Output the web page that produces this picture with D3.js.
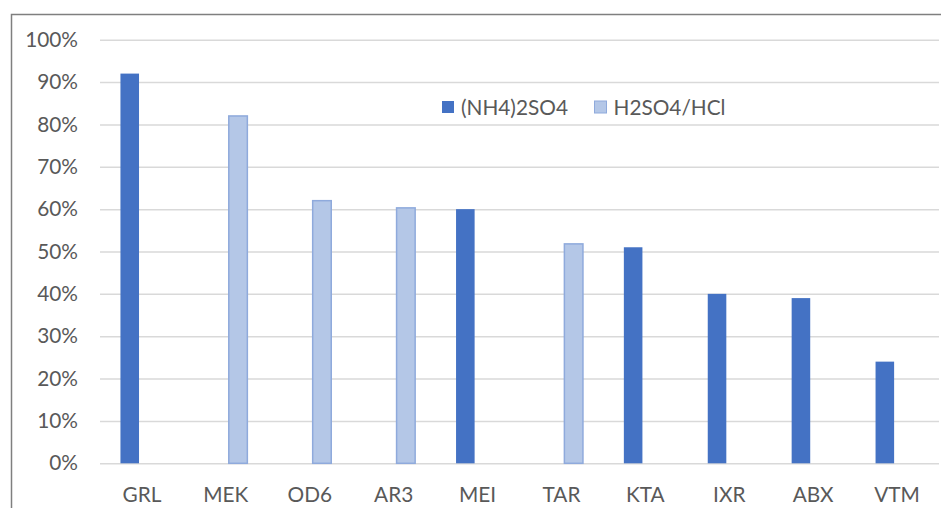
<!DOCTYPE html>
<html>
<head>
<meta charset="utf-8">
<script src="https://cdn.jsdelivr.net/npm/d3@7"></script>
<style>
  html, body { margin: 0; padding: 0; background: #fff; }
  svg { display: block; }
</style>
</head>
<body>
<svg id="chart" width="941" height="508"></svg>
<script>
const categories = ["GRL", "MEK", "OD6", "AR3", "MEI", "TAR", "KTA", "IXR", "ABX", "VTM"];
const seriesNames = ["(NH4)2SO4", "H2SO4/HCl"];
const nh4so4 = [0.92, null, null, null, 0.60, null, 0.51, 0.40, 0.39, 0.24];
const h2so4hcl = [null, 0.82, 0.62, 0.603, null, 0.518, null, null, null, null];
const yTicks = [0, 0.1, 0.2, 0.3, 0.4, 0.5, 0.6, 0.7, 0.8, 0.9, 1.0];

const W = 941, H = 508;
const plot = { left: 100, right: 939, top: 39.7, bottom: 463.3 };
const font = "Lato, 'Open Sans', sans-serif";
const fontSize = "20.8px";
const textColor = "#595959";

const svg = d3.select("#chart");

// chart border (top and left visible)
svg.append("rect")
  .attr("x", 11.5).attr("y", 14.5)
  .attr("width", 1000).attr("height", 1000)
  .attr("fill", "#fff")
  .attr("stroke", "#7f7f7f")
  .attr("stroke-width", 1.5);

const x = d3.scaleBand().domain(categories).range([plot.left, plot.right]).paddingInner(0).paddingOuter(0);
const x1 = d3.scaleBand().domain(seriesNames).range([-21.5, 21.5]).paddingInner(0.24);
const y = d3.scaleLinear().domain([0, 1]).range([plot.bottom, plot.top]);

// gridlines + y labels
const yAxis = d3.axisLeft(y).tickValues(yTicks).tickFormat(d3.format(".0%"))
  .tickSize(-(plot.right - plot.left)).tickPadding(22);
const gy = svg.append("g").attr("transform", `translate(${plot.left},0)`).call(yAxis);
gy.select(".domain").remove();
gy.selectAll(".tick line").attr("stroke", "#d9d9d9").attr("stroke-width", 1.5);
gy.selectAll(".tick text")
  .attr("fill", textColor)
  .style("font-family", font)
  .style("font-size", fontSize);

// x labels
const xAxis = d3.axisBottom(x).tickSize(0).tickPadding(24);
const gx = svg.append("g").attr("transform", `translate(0,${plot.bottom})`).call(xAxis);
gx.select(".domain").remove();
gx.selectAll(".tick text")
  .attr("fill", textColor)
  .style("font-family", font)
  .style("font-size", fontSize);

// bars
const data = [];
categories.forEach((c, i) => {
  if (nh4so4[i] != null) data.push({ cat: c, s: seriesNames[0], v: nh4so4[i] });
  if (h2so4hcl[i] != null) data.push({ cat: c, s: seriesNames[1], v: h2so4hcl[i] });
});
const fills = { "(NH4)2SO4": "#4472c4", "H2SO4/HCl": "#b4c7e7" };
const strokes = { "(NH4)2SO4": "none", "H2SO4/HCl": "#8faadc" };

svg.append("g").selectAll("rect").data(data).join("rect")
  .attr("x", d => x(d.cat) + x.bandwidth() / 2 + x1(d.s))
  .attr("width", x1.bandwidth())
  .attr("y", d => y(d.v))
  .attr("height", d => y(0) - y(d.v))
  .attr("fill", d => fills[d.s])
  .attr("stroke", d => strokes[d.s])
  .attr("stroke-width", 1.5);

// legend
const legend = svg.append("g").attr("transform", "translate(442,101)");
const legX = [0, 152.5];
seriesNames.forEach((s, i) => {
  const g = legend.append("g").attr("transform", `translate(${legX[i]},0)`);
  g.append("rect").attr("width", 12).attr("height", 12)
    .attr("fill", fills[s]).attr("stroke", strokes[s]).attr("stroke-width", 1);
  g.append("text").attr("x", 19).attr("y", 13.5)
    .attr("fill", textColor)
    .style("font-family", font)
    .style("font-size", fontSize)
    .text(s);
});
</script>
</body>
</html>
